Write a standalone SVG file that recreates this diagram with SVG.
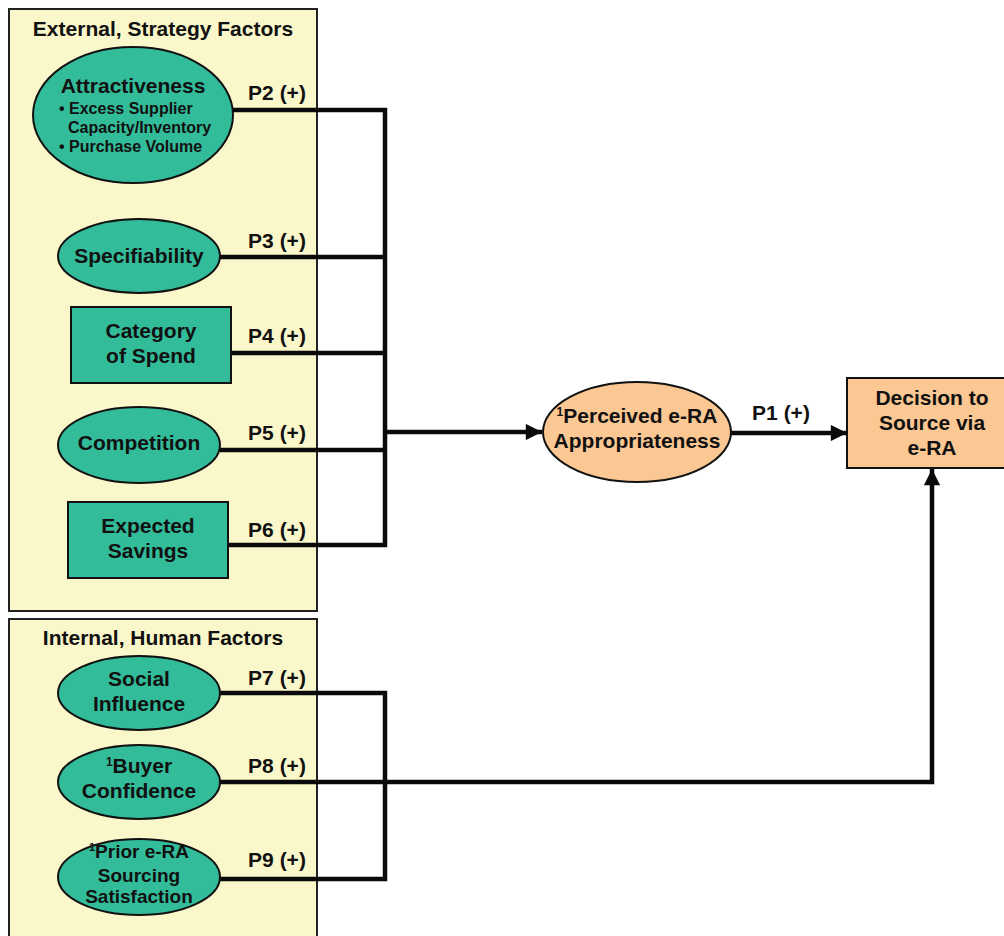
<svg xmlns="http://www.w3.org/2000/svg" width="1004" height="936" viewBox="0 0 1004 936">
<style>
text{font-family:"Liberation Sans",Arial,sans-serif;font-weight:bold;fill:#111;text-anchor:middle}
.t{font-size:21px}
.n{font-size:21px}
.s{font-size:19px}
.b{font-size:16px;text-anchor:start}
.l{font-size:21px}
.grp{fill:#FAF8CA;stroke:#222;stroke-width:2}
.teal{fill:#33BC9A;stroke:#111;stroke-width:2}
.org{fill:#FBC793;stroke:#111;stroke-width:2}
.c{fill:none;stroke:#0a0a0a;stroke-width:4.5}
</style>
<defs>
<marker id="ah" viewBox="0 0 10 10" refX="10" refY="5" markerWidth="3.8" markerHeight="3.6" orient="auto" markerUnits="strokeWidth">
<path d="M0,0 L10,5 L0,10 z" fill="#0a0a0a"/>
</marker>
</defs>
<rect width="1004" height="936" fill="#fff"/>
<g id="group-external">
<rect class="grp" x="9" y="9" width="308" height="602"/>
<text class="t" x="163" y="36">External, Strategy Factors</text>
</g>
<g id="group-internal">
<rect class="grp" x="9" y="619" width="308" height="320"/>
<text class="t" x="163" y="645">Internal, Human Factors</text>
</g>
<g id="connectors">
<polyline class="c" points="233,110 385,110 385,545 228,545"/>
<line class="c" x1="220" y1="257" x2="385" y2="257"/>
<line class="c" x1="231" y1="353" x2="385" y2="353"/>
<line class="c" x1="220" y1="450" x2="385" y2="450"/>
<line class="c" x1="385" y1="432" x2="542" y2="432" marker-end="url(#ah)"/>
<line class="c" x1="731" y1="433" x2="847" y2="433" marker-end="url(#ah)"/>
<polyline class="c" points="220,693 385,693 385,879 220,879"/>
<polyline class="c" points="220,782 932,782 932,469" marker-end="url(#ah)"/>
<text class="l" x="277" y="100">P2 (+)</text>
<text class="l" x="277" y="248">P3 (+)</text>
<text class="l" x="277" y="343">P4 (+)</text>
<text class="l" x="277" y="440">P5 (+)</text>
<text class="l" x="277" y="537">P6 (+)</text>
<text class="l" x="277" y="685">P7 (+)</text>
<text class="l" x="277" y="773">P8 (+)</text>
<text class="l" x="277" y="867">P9 (+)</text>
<text class="l" x="781" y="420">P1 (+)</text>
</g>
<g id="node-attractiveness">
<ellipse class="teal" cx="133" cy="115" rx="100" ry="68"/>
<text class="n" x="133" y="93">Attractiveness</text>
<text class="b" x="59" y="114">• Excess Supplier</text>
<text class="b" x="68" y="133">Capacity/Inventory</text>
<text class="b" x="59" y="152">• Purchase Volume</text>
</g>
<g id="node-specifiability">
<ellipse class="teal" cx="139" cy="256" rx="81" ry="37"/>
<text class="n" x="139" y="263">Specifiability</text>
</g>
<g id="node-category">
<rect class="teal" x="71" y="307" width="160" height="76"/>
<text class="n" x="151" y="338">Category</text>
<text class="n" x="151" y="363">of Spend</text>
</g>
<g id="node-competition">
<ellipse class="teal" cx="139" cy="445" rx="81" ry="38"/>
<text class="n" x="139" y="450">Competition</text>
</g>
<g id="node-savings">
<rect class="teal" x="68" y="502" width="160" height="76"/>
<text class="n" x="148" y="533">Expected</text>
<text class="n" x="148" y="558">Savings</text>
</g>
<g id="node-social">
<ellipse class="teal" cx="139" cy="693" rx="81" ry="37"/>
<text class="n" x="139" y="686">Social</text>
<text class="n" x="139" y="711">Influence</text>
</g>
<g id="node-buyer">
<ellipse class="teal" cx="139" cy="782" rx="81" ry="37"/>
<text class="n" x="139" y="773"><tspan font-size="12" dy="-7">1</tspan><tspan dy="7">Buyer</tspan></text>
<text class="n" x="139" y="798">Confidence</text>
</g>
<g id="node-prior">
<ellipse class="teal" cx="139" cy="877" rx="81" ry="38"/>
<text class="s" x="139" y="858"><tspan font-size="11" dy="-7">1</tspan><tspan dy="7">Prior e-RA</tspan></text>
<text class="s" x="139" y="882">Sourcing</text>
<text class="s" x="139" y="903">Satisfaction</text>
</g>
<g id="node-perceived">
<ellipse class="org" cx="637" cy="432" rx="94" ry="50"/>
<text class="n" x="637" y="423"><tspan font-size="12" dy="-7">1</tspan><tspan dy="7">Perceived e-RA</tspan></text>
<text class="n" x="637" y="448">Appropriateness</text>
</g>
<g id="node-decision">
<rect class="org" x="847" y="378" width="160" height="90"/>
<text class="n" x="932" y="405">Decision to</text>
<text class="n" x="932" y="430">Source via</text>
<text class="n" x="932" y="455">e-RA</text>
</g>
</svg>
